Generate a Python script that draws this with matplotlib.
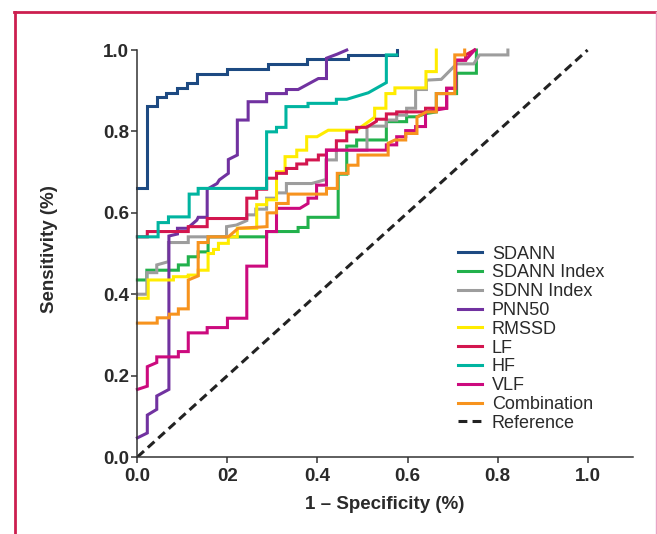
import matplotlib
matplotlib.use("Agg")
import matplotlib.pyplot as plt
from matplotlib.lines import Line2D

# ROC curves: (1 - specificity, sensitivity) vertices
sdann_x = [0, 0.022, 0.022, 0.044, 0.044, 0.063, 0.063, 0.089, 0.089, 0.111, 0.111,
           0.133, 0.133, 0.200, 0.200, 0.289, 0.289, 0.376, 0.376, 0.468, 0.468, 0.576, 0.576]
sdann_y = [0.660, 0.660, 0.862, 0.862, 0.884, 0.884, 0.895, 0.895, 0.906, 0.906, 0.919,
           0.919, 0.940, 0.940, 0.953, 0.953, 0.966, 0.966, 0.977, 0.977, 0.988, 0.988, 1.0]

sdann_idx_x = [0, 0.021, 0.021, 0.091, 0.091, 0.113, 0.113, 0.135, 0.135, 0.157, 0.157,
               0.287, 0.287, 0.357, 0.357, 0.379, 0.379, 0.446, 0.446, 0.465, 0.465, 0.487,
               0.487, 0.553, 0.553, 0.598, 0.598, 0.620, 0.642, 0.664, 0.664, 0.709, 0.709,
               0.753, 0.753]
sdann_idx_y = [0.435, 0.435, 0.459, 0.459, 0.472, 0.472, 0.492, 0.492, 0.504, 0.504, 0.541,
               0.541, 0.554, 0.554, 0.564, 0.564, 0.589, 0.589, 0.695, 0.695, 0.764, 0.764,
               0.779, 0.779, 0.824, 0.824, 0.836, 0.836, 0.844, 0.848, 0.893, 0.893, 0.943,
               0.943, 1.0]

sdnn_idx_x = [0, 0.021, 0.021, 0.043, 0.043, 0.069, 0.069, 0.113, 0.113, 0.198, 0.198,
              0.220, 0.243, 0.243, 0.263, 0.263, 0.287, 0.287, 0.309, 0.309, 0.331, 0.331,
              0.387, 0.419, 0.419, 0.442, 0.442, 0.510, 0.510, 0.553, 0.553, 0.576, 0.576,
              0.598, 0.598, 0.618, 0.618, 0.642, 0.642, 0.675, 0.709, 0.747, 0.760, 0.823, 0.823]
sdnn_idx_y = [0.400, 0.400, 0.453, 0.453, 0.472, 0.480, 0.527, 0.527, 0.541, 0.541, 0.566,
              0.570, 0.581, 0.595, 0.595, 0.609, 0.609, 0.636, 0.636, 0.649, 0.649, 0.672,
              0.672, 0.682, 0.730, 0.730, 0.754, 0.754, 0.813, 0.813, 0.828, 0.828, 0.840,
              0.840, 0.857, 0.857, 0.903, 0.903, 0.926, 0.928, 0.966, 0.966, 0.988, 0.988, 1.0]

pnn50_x = [0, 0.022, 0.022, 0.043, 0.043, 0.070, 0.070, 0.089, 0.089, 0.111, 0.132, 0.135,
           0.155, 0.155, 0.177, 0.182, 0.202, 0.202, 0.222, 0.222, 0.246, 0.246, 0.287,
           0.287, 0.331, 0.331, 0.357, 0.402, 0.420, 0.420, 0.444, 0.465]
pnn50_y = [0.047, 0.059, 0.103, 0.117, 0.150, 0.166, 0.543, 0.548, 0.562, 0.562, 0.582, 0.589,
           0.589, 0.658, 0.672, 0.681, 0.697, 0.731, 0.742, 0.828, 0.828, 0.873, 0.873,
           0.893, 0.893, 0.903, 0.903, 0.930, 0.930, 0.980, 0.990, 1.0]

rmssd_x = [0, 0.024, 0.024, 0.080, 0.080, 0.113, 0.113, 0.135, 0.135, 0.157, 0.157, 0.169,
           0.169, 0.180, 0.180, 0.202, 0.202, 0.222, 0.222, 0.265, 0.265, 0.287, 0.287,
           0.309, 0.309, 0.328, 0.328, 0.354, 0.354, 0.376, 0.376, 0.399, 0.424, 0.487,
           0.527, 0.527, 0.552, 0.552, 0.572, 0.572, 0.641, 0.641, 0.664, 0.664]
rmssd_y = [0.390, 0.390, 0.435, 0.435, 0.443, 0.443, 0.447, 0.447, 0.459, 0.459, 0.500, 0.500,
           0.510, 0.510, 0.525, 0.525, 0.541, 0.541, 0.562, 0.562, 0.620, 0.620, 0.632,
           0.632, 0.701, 0.701, 0.738, 0.738, 0.754, 0.754, 0.787, 0.787, 0.803, 0.803,
           0.835, 0.857, 0.857, 0.893, 0.893, 0.907, 0.907, 0.947, 0.947, 1.0]

lf_x = [0, 0.022, 0.022, 0.113, 0.113, 0.155, 0.155, 0.243, 0.243, 0.265, 0.265, 0.287,
        0.287, 0.309, 0.309, 0.331, 0.331, 0.354, 0.354, 0.376, 0.376, 0.402, 0.402, 0.420,
        0.420, 0.442, 0.442, 0.465, 0.465, 0.487, 0.487, 0.509, 0.531, 0.531, 0.553, 0.553,
        0.576, 0.576, 0.640, 0.640, 0.687, 0.687, 0.707, 0.707, 0.729, 0.729, 0.749]
lf_y = [0.541, 0.541, 0.554, 0.554, 0.566, 0.566, 0.586, 0.586, 0.636, 0.636, 0.658, 0.658,
        0.685, 0.685, 0.697, 0.697, 0.709, 0.709, 0.720, 0.720, 0.730, 0.730, 0.742, 0.742,
        0.754, 0.754, 0.777, 0.777, 0.799, 0.799, 0.810, 0.810, 0.825, 0.830, 0.830, 0.843,
        0.843, 0.848, 0.848, 0.857, 0.857, 0.906, 0.906, 0.975, 0.975, 0.988, 1.0]

hf_x = [0, 0.046, 0.046, 0.069, 0.069, 0.115, 0.115, 0.135, 0.135, 0.287, 0.287, 0.309,
        0.309, 0.330, 0.330, 0.379, 0.379, 0.442, 0.442, 0.465, 0.513, 0.553, 0.553, 0.576]
hf_y = [0.541, 0.541, 0.576, 0.576, 0.590, 0.590, 0.646, 0.646, 0.660, 0.660, 0.799, 0.799,
        0.810, 0.810, 0.861, 0.861, 0.869, 0.869, 0.879, 0.879, 0.895, 0.920, 0.988, 0.988]

vlf_x = [0, 0.022, 0.022, 0.043, 0.043, 0.091, 0.091, 0.113, 0.113, 0.155, 0.155, 0.200,
         0.200, 0.243, 0.243, 0.287, 0.287, 0.309, 0.309, 0.361, 0.379, 0.379, 0.398, 0.398,
         0.420, 0.420, 0.553, 0.553, 0.576, 0.576, 0.596, 0.596, 0.618, 0.618, 0.640, 0.640,
         0.687, 0.687, 0.707, 0.707, 0.729, 0.749]
vlf_y = [0.166, 0.174, 0.222, 0.232, 0.246, 0.246, 0.259, 0.259, 0.305, 0.305, 0.318, 0.318,
         0.341, 0.341, 0.469, 0.469, 0.554, 0.554, 0.611, 0.611, 0.623, 0.636, 0.636, 0.668,
         0.668, 0.754, 0.754, 0.767, 0.767, 0.787, 0.787, 0.802, 0.802, 0.812, 0.812, 0.848,
         0.857, 0.906, 0.906, 0.975, 0.975, 1.0]

combo_x = [0, 0.044, 0.044, 0.071, 0.071, 0.091, 0.091, 0.113, 0.113, 0.135, 0.135, 0.157,
           0.157, 0.202, 0.224, 0.288, 0.288, 0.309, 0.309, 0.335, 0.335, 0.420, 0.420, 0.444,
           0.444, 0.468, 0.468, 0.490, 0.490, 0.557, 0.557, 0.572, 0.596, 0.596, 0.621, 0.621,
           0.642, 0.664, 0.664, 0.705, 0.705, 0.727, 0.727]
combo_y = [0.329, 0.329, 0.342, 0.342, 0.351, 0.351, 0.364, 0.364, 0.435, 0.445, 0.527, 0.527,
           0.541, 0.541, 0.562, 0.566, 0.600, 0.600, 0.623, 0.623, 0.646, 0.646, 0.660, 0.660,
           0.697, 0.697, 0.717, 0.717, 0.742, 0.742, 0.771, 0.779, 0.779, 0.795, 0.795, 0.835,
           0.848, 0.848, 0.893, 0.893, 0.988, 0.988, 1.0]

series = [
    ("SDANN", sdann_x, sdann_y, "#1d4a82"),
    ("SDANN Index", sdann_idx_x, sdann_idx_y, "#22b14c"),
    ("SDNN Index", sdnn_idx_x, sdnn_idx_y, "#9d9d9d"),
    ("PNN50", pnn50_x, pnn50_y, "#7132a0"),
    ("RMSSD", rmssd_x, rmssd_y, "#ffec00"),
    ("LF", lf_x, lf_y, "#d3164f"),
    ("HF", hf_x, hf_y, "#00b4a0"),
    ("VLF", vlf_x, vlf_y, "#cc0a7e"),
    ("Combination", combo_x, combo_y, "#f7931e"),
]

x_ticks = [0.0, 0.2, 0.4, 0.6, 0.8, 1.0]
x_tick_labels = ["0.0", "02", "0.4", "0.6", "0.8", "1.0"]
y_ticks = [0.0, 0.2, 0.4, 0.6, 0.8, 1.0]
y_tick_labels = ["0.0", "0.2", "0.4", "0.6", "0.8", "1.0"]

plt.rcParams['font.family'] = ['Liberation Sans', 'DejaVu Sans']

fig = plt.figure(figsize=(6.57, 5.34), dpi=100)

# frame round the figure
fig.add_artist(Line2D([14.5 / 657, 14.5 / 657], [0, 1 - 12 / 534], color="#cc1f4f", lw=2.0))
fig.add_artist(Line2D([13.5 / 657, 1], [1 - 12 / 534, 1 - 12 / 534], color="#cc1f4f", lw=2.0))
fig.add_artist(Line2D([656 / 657, 656 / 657], [0, 1 - 12 / 534], color="#eaa2c4", lw=1.0))

ax = fig.add_axes([137.4 / 657, 77 / 534, 495.2 / 657, 415.1 / 534])

for name, xs, ys, color in series:
    ax.plot(xs, ys, color=color, lw=2.2, label=name, solid_joinstyle="miter", clip_on=False)

ax.plot([0, 1], [0, 1], color="#222222", lw=2.2, linestyle=(0, (2.9, 1.7)), label="Reference")

ax.set_xlim(0, 1.1)
ax.set_ylim(0, 1.02)
ax.spines['top'].set_visible(False)
ax.spines['right'].set_visible(False)
ax.spines['left'].set_bounds(0, 1)
for side in ('left', 'bottom'):
    ax.spines[side].set_linewidth(1.1)
    ax.spines[side].set_color("#333333")

ax.set_xticks(x_ticks)
ax.set_xticklabels(x_tick_labels)
ax.set_yticks(y_ticks)
ax.set_yticklabels(y_tick_labels)
ax.tick_params(direction='out', length=4.3, width=1.1, color="#333333",
               labelsize=13.5, labelcolor="#2a2a2a")
ax.tick_params(axis='x', pad=3.5)
ax.tick_params(axis='y', pad=1.5)
for lab in ax.get_xticklabels() + ax.get_yticklabels():
    lab.set_fontweight('bold')

ax.set_xlabel("1 – Specificity (%)", fontsize=13.5, fontweight='bold', color="#2a2a2a")
ax.set_ylabel("Sensitivity (%)", fontsize=13.5, fontweight='bold', color="#2a2a2a")
ax.xaxis.set_label_coords(0.5, -0.093)
ax.yaxis.set_label_coords(-0.161, 0.5)

leg = ax.legend(loc='upper left', bbox_to_anchor=(458 / 657, 1 - 245.5 / 534),
                bbox_transform=fig.transFigure, frameon=False, fontsize=13,
                handlelength=1.33, handletextpad=0.55, labelspacing=0.1,
                borderpad=0, borderaxespad=0)
for t in leg.get_texts():
    t.set_color("#2a2a2a")

fig.savefig("out.png", dpi=100, facecolor="white")
